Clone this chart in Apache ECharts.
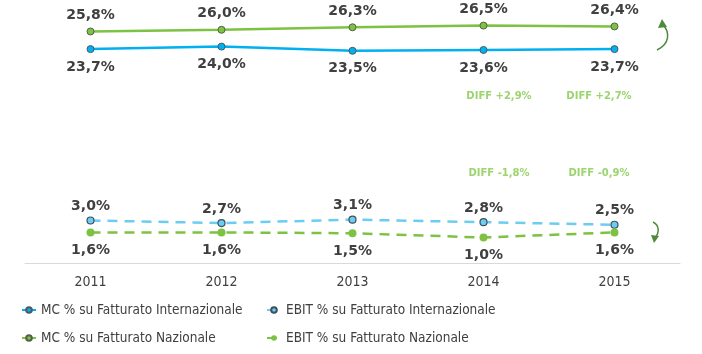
<!DOCTYPE html>
<html>
<head>
<meta charset="utf-8">
<script src="https://cdn.jsdelivr.net/npm/echarts@6/dist/echarts.min.js"></script>
<style>
  html, body { margin: 0; padding: 0; background: #fff; }
  #main { width: 702px; height: 354px; }
</style>
</head>
<body>
<div id="main"></div>
<script>
var years = ['2011', '2012', '2013', '2014', '2015'];
var mcInt = [23.7, 24.0, 23.5, 23.6, 23.7];
var mcNaz = [25.8, 26.0, 26.3, 26.5, 26.4];
var ebitInt = [3.0, 2.7, 3.1, 2.8, 2.5];
var ebitNaz = [1.6, 1.6, 1.5, 1.0, 1.6];
var diffYears = [3, 4];

var labelFont = 'DejaVu Sans';
var condFont = 'DejaVu Sans Condensed, DejaVu Sans';
var textColor = '#404040';

function pct(v) {
  return v.toFixed(1).replace('.', ',') + '%';
}
function diffText(a, b, i) {
  var d = a[i] - b[i];
  return 'DIFF ' + (d >= 0 ? '+' : '-') + Math.abs(d).toFixed(1).replace('.', ',') + '%';
}

function lineLabel(pos, dist) {
  return {
    show: true,
    position: pos,
    distance: dist,
    fontFamily: labelFont,
    fontWeight: 'bold',
    fontSize: 14,
    color: textColor,
    formatter: function(p) { return pct(p.value); },
  };
}

var chart = echarts.init(document.getElementById('main'));

var options = {
  animation: false,
  grid: [
    {left: 25, right: 22, top: 13, height: 50.4},
    {left: 25, right: 22, top: 212, height: 51},
  ],
  xAxis: [
    {
      gridIndex: 0, type: 'category', data: years,
      axisLine: {show: false}, axisTick: {show: false}, axisLabel: {show: false},
    },
    {
      gridIndex: 1, type: 'category', data: years,
      axisLine: {onZero: false, lineStyle: {color: '#d9d9d9', width: 1}},
      axisTick: {show: false},
      axisLabel: {
        margin: 12, color: textColor, fontSize: 14, fontFamily: condFont,
      },
    },
  ],
  yAxis: [
    {gridIndex: 0, type: 'value', min: 22, max: 28, show: false, splitLine: {show: false}},
    {gridIndex: 1, type: 'value', min: -2, max: 4, show: false, splitLine: {show: false}},
  ],
  legend: [
    {
      orient: 'vertical', left: 21, top: 303, padding: 0, itemGap: 14,
      itemWidth: 14, itemHeight: 7,
      data: ['MC % su Fatturato Internazionale', 'MC % su Fatturato Nazionale'],
      textStyle: {color: textColor, fontSize: 13.5, fontFamily: condFont},
    },
    {
      orient: 'vertical', left: 266, top: 303, padding: 0, itemGap: 14,
      itemWidth: 14, itemHeight: 7,
      data: ['EBIT % su Fatturato Internazionale', 'EBIT % su Fatturato Nazionale'],
      textStyle: {color: textColor, fontSize: 13.5, fontFamily: condFont},
    },
  ],
  series: [
    {
      name: 'MC % su Fatturato Internazionale',
      type: 'line', xAxisIndex: 0, yAxisIndex: 0,
      data: mcInt,
      symbol: 'circle', symbolSize: 7,
      lineStyle: {color: '#00b0f0', width: 2.5},
      itemStyle: {color: '#00b0f0', borderColor: '#4d5a63', borderWidth: 1},
      label: lineLabel('bottom', 7),
    },
    {
      name: 'MC % su Fatturato Nazionale',
      type: 'line', xAxisIndex: 0, yAxisIndex: 0,
      data: mcNaz,
      symbol: 'circle', symbolSize: 7,
      lineStyle: {color: '#7dc242', width: 2.5},
      itemStyle: {color: '#7dc242', borderColor: '#55604a', borderWidth: 1},
      label: lineLabel('top', 5),
    },
    {
      name: 'EBIT % su Fatturato Internazionale',
      type: 'line', xAxisIndex: 1, yAxisIndex: 1,
      data: ebitInt,
      symbol: 'circle', symbolSize: 7,
      lineStyle: {color: '#6ccdf2', width: 2.5, type: [10, 7]},
      itemStyle: {color: '#6ccdf2', borderColor: '#3f4f5a', borderWidth: 1.2},
      label: lineLabel('top', 3),
    },
    {
      name: 'EBIT % su Fatturato Nazionale',
      type: 'line', xAxisIndex: 1, yAxisIndex: 1,
      data: ebitNaz,
      symbol: 'circle', symbolSize: 8,
      lineStyle: {color: '#7dc242', width: 2.5, type: [10, 7]},
      itemStyle: {color: '#7dc242'},
      label: lineLabel('bottom', 7),
    },
  ],
  graphic: [
    {type: 'text', x: 499, y: 96, style: {
      text: diffText(mcNaz, mcInt, diffYears[0]), align: 'center', verticalAlign: 'middle',
      fill: '#9cd46e', font: 'bold 10px "DejaVu Sans"'}},
    {type: 'text', x: 599, y: 96, style: {
      text: diffText(mcNaz, mcInt, diffYears[1]), align: 'center', verticalAlign: 'middle',
      fill: '#9cd46e', font: 'bold 10px "DejaVu Sans"'}},
    {type: 'text', x: 499, y: 173, style: {
      text: diffText(ebitNaz, ebitInt, diffYears[0]), align: 'center', verticalAlign: 'middle',
      fill: '#9cd46e', font: 'bold 10px "DejaVu Sans"'}},
    {type: 'text', x: 599, y: 173, style: {
      text: diffText(ebitNaz, ebitInt, diffYears[1]), align: 'center', verticalAlign: 'middle',
      fill: '#9cd46e', font: 'bold 10px "DejaVu Sans"'}},
    // curved arrows at right side
    {type: 'bezierCurve', shape: {x1: 657, y1: 50, x2: 663, y2: 25, cpx1: 670, cpy1: 44, cpx2: 670, cpy2: 32},
      style: {stroke: '#4f8a3a', lineWidth: 1.5, fill: null}},
    {type: 'polygon', shape: {points: [[662, 19], [658, 28], [667, 27]]},
      style: {fill: '#4f8a3a'}},
    {type: 'bezierCurve', shape: {x1: 653, y1: 222, x2: 655, y2: 238, cpx1: 659, cpy1: 225, cpx2: 660, cpy2: 232},
      style: {stroke: '#4f8a3a', lineWidth: 1.5, fill: null}},
    {type: 'polygon', shape: {points: [[654, 243], [651, 235], [659, 236]]},
      style: {fill: '#4f8a3a'}},
  ],
};

chart.setOption(options);
</script>
</body>
</html>
